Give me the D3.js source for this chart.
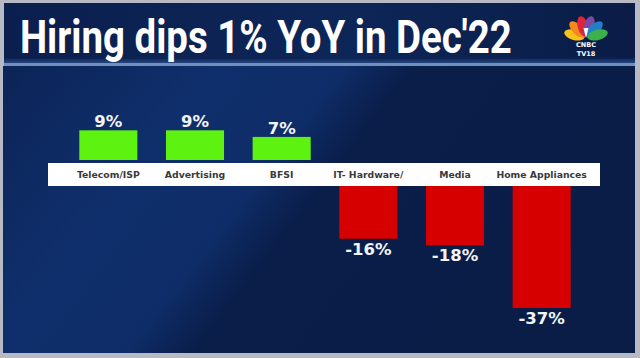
<!DOCTYPE html>
<html>
<head>
<meta charset="utf-8">
<script src="https://cdn.jsdelivr.net/npm/d3@7"></script>
<style>
  html, body { margin: 0; padding: 0; background: #b9bcc6; }
  svg { display: block; }
</style>
</head>
<body>
<svg id="chart" width="640" height="358"></svg>
<script>
const categories = ["Telecom/ISP", "Advertising", "BFSI", "IT- Hardware/", "Media", "Home Appliances"];
const values = [9, 9, 7, -16, -18, -37];
const valueLabels = ["9%", "9%", "7%", "-16%", "-18%", "-37%"];
const title = "Hiring dips 1% YoY in Dec'22";

const svg = d3.select("#chart");
const defs = svg.append("defs");

// background gradients
const g1 = defs.append("linearGradient").attr("id", "bgGrad").attr("x1", "0").attr("y1", "0").attr("x2", "1").attr("y2", "0.35");
g1.append("stop").attr("offset", "0%").attr("stop-color", "#0c2457");
g1.append("stop").attr("offset", "30%").attr("stop-color", "#0f2f6c");
g1.append("stop").attr("offset", "48%").attr("stop-color", "#0e2d68");
g1.append("stop").attr("offset", "58%").attr("stop-color", "#0a1e4a");
g1.append("stop").attr("offset", "100%").attr("stop-color", "#0a1d47");

const g2 = defs.append("linearGradient").attr("id", "hdrGrad").attr("x1", "0").attr("y1", "0").attr("x2", "1").attr("y2", "0");
g2.append("stop").attr("offset", "0%").attr("stop-color", "#0b1f4e");
g2.append("stop").attr("offset", "55%").attr("stop-color", "#0d2658");
g2.append("stop").attr("offset", "100%").attr("stop-color", "#0a1c46");

const g3 = defs.append("linearGradient").attr("id", "sepGrad").attr("x1", "0").attr("y1", "0").attr("x2", "0").attr("y2", "1");
g3.append("stop").attr("offset", "0%").attr("stop-color", "#0c2252");
g3.append("stop").attr("offset", "100%").attr("stop-color", "#2a4f88");

// frame
svg.append("rect").attr("x", 0).attr("y", 0).attr("width", 640).attr("height", 358).attr("fill", "#b7bac4");
// header
svg.append("rect").attr("x", 4).attr("y", 3).attr("width", 631).attr("height", 57).attr("fill", "url(#hdrGrad)");
svg.append("rect").attr("x", 4).attr("y", 58).attr("width", 631).attr("height", 6).attr("fill", "url(#sepGrad)");
svg.append("rect").attr("x", 4).attr("y", 63).attr("width", 631).attr("height", 3).attr("fill", "#6f8fbf");
// chart area
svg.append("rect").attr("x", 3).attr("y", 66).attr("width", 632).attr("height", 287).attr("fill", "url(#bgGrad)");

// title (horizontally condensed by a transform so its box stays tight)
const titleText = svg.append("text")
  .attr("x", 0).attr("y", 0)
  .attr("font-family", "Roboto, 'Liberation Sans', sans-serif")
  .attr("font-weight", 700)
  .attr("font-size", 47)
  .attr("fill", "#ffffff")
  .text(title);
const natW = titleText.node().getComputedTextLength() || 680;
titleText.attr("transform", `translate(20,53) scale(${492 / natW},1)`);

// CNBC TV18 logo (simple peacock)
const logo = svg.append("g").attr("transform", "translate(586,38)");
const featherColors = ["#f7c31b", "#f28a1e", "#e0243a", "#7b4aa0", "#1f7fc9", "#3bb14a"];
const featherAngles = [-75, -45, -15, 15, 45, 75];
featherColors.forEach((c, i) => {
  logo.append("ellipse")
    .attr("cx", 0).attr("cy", -12)
    .attr("rx", 5.2).attr("ry", 10.5)
    .attr("fill", c)
    .attr("transform", `rotate(${featherAngles[i]})`);
});
logo.append("path").attr("d", "M-2.5,-10 L0,0 L2.5,-10 Z").attr("fill", "#ffffff");
svg.append("text").attr("x", 586).attr("y", 47).attr("text-anchor", "middle")
  .attr("font-family", "'DejaVu Sans', sans-serif").attr("font-weight", 700).attr("font-size", 6.5)
  .attr("fill", "#ffffff").text("CNBC");
svg.append("text").attr("x", 586).attr("y", 55.5).attr("text-anchor", "middle")
  .attr("font-family", "'DejaVu Sans', sans-serif").attr("font-weight", 700).attr("font-size", 6.5)
  .attr("fill", "#ffffff").text("TV18");

// scales
const x = d3.scaleBand().domain(categories).range([65, 585]).paddingInner(0.33).paddingOuter(0.165);
const mag = d3.scaleLinear().domain([0, 37]).range([0, 122]);
const posBase = 160;
const negBase = 186;

const data = categories.map((c, i) => ({ cat: c, v: values[i], label: valueLabels[i] }));

// bars
svg.append("g").selectAll("rect").data(data).join("rect")
  .attr("x", d => x(d.cat))
  .attr("width", x.bandwidth())
  .attr("y", d => d.v >= 0 ? posBase - mag(d.v) : negBase)
  .attr("height", d => mag(Math.abs(d.v)))
  .attr("fill", d => d.v >= 0 ? "#5ef210" : "#d60000");

// white label band
svg.append("rect").attr("x", 48).attr("y", 163).attr("width", 552).attr("height", 23).attr("fill", "#ffffff");

// category labels
svg.append("g").selectAll("text").data(data).join("text")
  .attr("x", d => x(d.cat) + x.bandwidth() / 2)
  .attr("y", 178)
  .attr("text-anchor", "middle")
  .attr("font-family", "'DejaVu Sans', sans-serif")
  .attr("font-weight", 700)
  .attr("font-size", 9.3)
  .attr("fill", "#3a3a3a")
  .text(d => d.cat);

// value labels
svg.append("g").selectAll("text").data(data).join("text")
  .attr("x", d => x(d.cat) + x.bandwidth() / 2)
  .attr("y", d => d.v >= 0 ? posBase - mag(d.v) - 3 : negBase + mag(-d.v) + 16)
  .attr("text-anchor", "middle")
  .attr("font-family", "'DejaVu Sans', sans-serif")
  .attr("font-weight", 700)
  .attr("font-size", 16.5)
  .attr("fill", "#f2f4f8")
  .text(d => d.label);
</script>
</body>
</html>
